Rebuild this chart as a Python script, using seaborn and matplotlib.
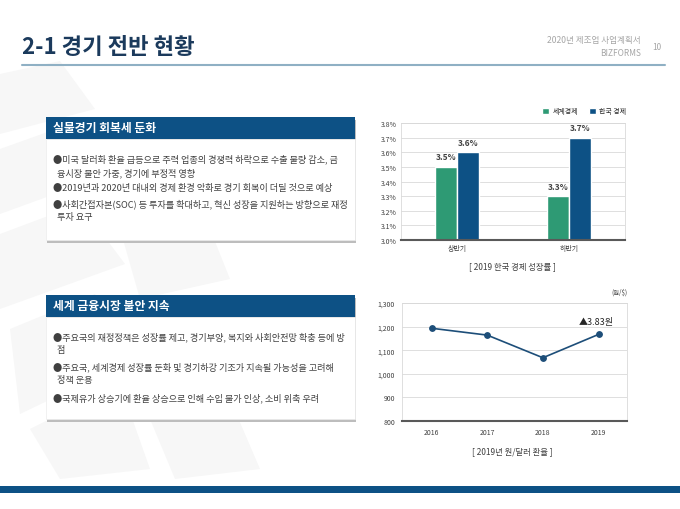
import pandas as pd
import matplotlib
import seaborn as sns
import matplotlib.pyplot as plt
from matplotlib.patches import Rectangle, Polygon
from matplotlib.ticker import FuncFormatter, MultipleLocator

matplotlib.use("Agg")

sns.set_theme(style="white")
plt.rcParams['font.family'] = ['Noto Sans CJK KR', 'DejaVu Sans']

navy = "#0d5185"
green = "#2e9a74"
line_navy = "#1d4e79"
text_gray = "#404040"

# growth chart data
periods = ["상반기", "하반기"]
regions = ["세계경제", "한국 경제"]
world_growth = [3.5, 3.3]
korea_growth = [3.6, 3.7]

# exchange rate data
years = ["2016", "2017", "2018", "2019"]
krw_usd = [1193, 1164, 1068, 1167]

box1_title = "실물경기 회복세 둔화"
box1_lines = ["●미국 달러화 환율 급등으로 주력 업종의 경쟁력 하락으로 수출 물량 감소, 금",
              "  융시장 불안 가중, 경기에 부정적 영향",
              "●2019년과 2020년 대내외 경제 환경 악화로 경기 회복이 더딜 것으로 예상",
              "●사회간접자본(SOC) 등 투자를 확대하고, 혁신 성장을 지원하는 방향으로 재정",
              "  투자 요구"]
box2_title = "세계 금융시장 불안 지속"
box2_lines = ["●주요국의 재정정책은 성장률 제고, 경기부양, 복지와 사회안전망 확충 등에 방",
              "  점",
              "●주요국, 세계경제 성장률 둔화 및 경기하강 기조가 지속될 가능성을 고려해",
              "  정책 운용",
              "●국제유가 상승기에 환율 상승으로 인해 수입 물가 인상, 소비 위축 우려"]

W, H = 680, 510
fig = plt.figure(figsize=(6.8, 5.1), dpi=100)


def fx(x):
    return x / W


def fy(y):
    return 1 - y / H


# background layer in pixel coords
bg = fig.add_axes([0, 0, 1, 1])
bg.set_xlim(0, W)
bg.set_ylim(H, 0)
bg.axis("off")

# faint watermark shapes
for pts in [[(0, 75), (60, 62), (95, 110), (0, 135)],
            [(0, 150), (70, 125), (110, 175), (0, 215)],
            [(0, 235), (80, 205), (125, 265), (0, 310)],
            [(10, 330), (95, 295), (135, 360), (20, 415)],
            [(30, 430), (120, 385), (150, 470), (60, 480)],
            [(120, 230), (200, 205), (230, 280), (140, 300)],
            [(150, 420), (230, 400), (260, 470), (175, 480)]]:
    bg.add_patch(Polygon(pts, closed=True, color="#f7f7f7", zorder=0, lw=0))

bg.text(22, 47, "2-1 경기 전반 현황", fontsize=16, fontweight="bold", color="#1b3a5c",
        va="center", ha="left")
bg.plot([22, 665], [66, 66], color="#8fb0c4", lw=1.5)
bg.text(641, 41, "2020년 제조업 사업계획서", fontsize=6.2, color="#a6a6a6", ha="right", va="center")
bg.text(641, 54, "BIZFORMS", fontsize=6, color="#a6a6a6", ha="right", va="center")
bg.text(657, 47, "10", fontsize=6, color="#a6a6a6", ha="center", va="center")
bg.add_patch(Rectangle((0, 487), W, 7, color=navy, lw=0))


def draw_box(top, head_bottom, bottom, title, lines, line_ys):
    bg.add_patch(Rectangle((47, top + 2.5), 309, bottom - top, color="#bdbdbd", lw=0, zorder=1))
    bg.add_patch(Rectangle((46, head_bottom), 309, bottom - head_bottom, facecolor="white",
                           edgecolor="#ececec", lw=0.5, zorder=2))
    bg.add_patch(Rectangle((46, top), 309, head_bottom - top, color=navy, lw=0, zorder=3))
    bg.text(53, (top + head_bottom) / 2, title, fontsize=8.5, fontweight="bold", color="white",
            va="center", ha="left", zorder=4)
    for s, yy in zip(lines, line_ys):
        bg.text(53, yy, s, fontsize=6.6, color=text_gray, va="center", ha="left", zorder=4)


draw_box(118, 140, 241, box1_title, box1_lines, [159, 173, 188, 204, 218])
draw_box(296, 318, 420, box2_title, box2_lines, [337, 351, 367, 381, 398])

# bar chart
df_growth = pd.DataFrame({
    "period": periods * 2,
    "growth": world_growth + korea_growth,
    "region": [regions[0]] * 2 + [regions[1]] * 2,
})
ax1 = fig.add_axes([fx(401), fy(241), fx(625 - 401), (241 - 124) / H])
sns.barplot(data=df_growth, x="period", y="growth", hue="region", palette=[green, navy],
            width=0.4, gap=0, ax=ax1, saturation=1, legend=True)
ax1.set_xlim(-0.5, 1.5)
ax1.set_ylim(3.0, 3.8)
ax1.yaxis.set_major_locator(MultipleLocator(0.1))
ax1.yaxis.set_major_formatter(FuncFormatter(lambda v, p: f"{v:.1f}%"))
ax1.grid(axis="y", color="#d9d9d9", lw=0.6)
ax1.set_axisbelow(True)
ax1.set_xlabel("")
ax1.set_ylabel("")
ax1.tick_params(axis="both", labelsize=5, colors=text_gray, length=0, pad=3)
for sp in ["top", "right", "left"]:
    ax1.spines[sp].set_color("#d9d9d9")
    ax1.spines[sp].set_linewidth(0.6)
ax1.spines["bottom"].set_color("#595959")
ax1.spines["bottom"].set_linewidth(1.5)
for cont in ax1.containers:
    ax1.bar_label(cont, fmt="%.1f%%", padding=4, fontsize=6, fontweight="bold", color=text_gray)
handles, labels = ax1.get_legend_handles_labels()
ax1.get_legend().remove()
fig.legend(handles, labels, loc="center right", bbox_to_anchor=(fx(626), fy(112)), ncol=2,
           frameon=False, fontsize=5, handlelength=1.0, handleheight=1.0, handletextpad=0.5,
           columnspacing=1.5, borderpad=0, borderaxespad=0)
bg.text(512, 267, "[ 2019 한국 경제 성장률 ]", fontsize=6, color=text_gray, ha="center", va="center")

# line chart
ax2 = fig.add_axes([fx(402), fy(422), fx(627 - 402), (422 - 304) / H])
sns.pointplot(x=years, y=krw_usd, color=line_navy, markers="o", linewidth=1.2, markersize=4,
              errorbar=None, ax=ax2)
ax2.set_xlim(-0.53, 3.51)
ax2.set_ylim(800, 1300)
ax2.yaxis.set_major_locator(MultipleLocator(100))
ax2.yaxis.set_major_formatter(FuncFormatter(lambda v, p: f"{v:,.0f}"))
ax2.grid(axis="y", color="#d9d9d9", lw=0.6)
ax2.set_axisbelow(True)
ax2.tick_params(axis="both", labelsize=5, colors=text_gray, length=0, pad=5)
for sp in ["top", "right", "left"]:
    ax2.spines[sp].set_color("#d9d9d9")
    ax2.spines[sp].set_linewidth(0.6)
ax2.spines["bottom"].set_color("#595959")
ax2.spines["bottom"].set_linewidth(1.5)
ax2.annotate("▲3.83원", xy=(3, krw_usd[3]), xytext=(-2, 9), textcoords="offset points",
             fontsize=6.5, color="#262626", ha="center", va="center")
bg.text(628, 293, "(원/$)", fontsize=4.5, color=text_gray, ha="right", va="center")
bg.text(512, 452, "[ 2019년 원/달러 환율 ]", fontsize=6, color=text_gray, ha="center", va="center")

fig.savefig("out.png", dpi=100)
